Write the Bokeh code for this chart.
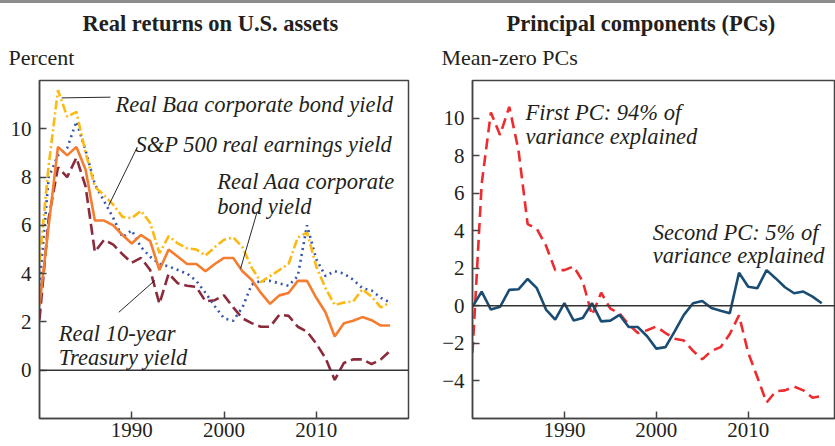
from bokeh.plotting import figure
from bokeh.models import Range1d, FixedTicker, Span, Label, ColumnDataSource, Title
from bokeh.layouts import row
from bokeh.embed import file_html
from bokeh.resources import INLINE

# ---------------- data ----------------
years = list(range(1980, 2019))

baa = [4.5, 8.5, 11.6, 10.5, 10.7, 9.0, 7.6, 7.25, 6.85, 6.35,
       6.3, 6.6, 6.1, 4.85, 5.55, 5.25, 5.05, 5.0, 4.75, 5.1,
       5.4, 5.5, 5.1, 4.25, 3.65, 3.9, 4.15, 4.4, 5.5, 5.7,
       4.3, 3.4, 2.7, 2.8, 2.85, 3.35, 3.05, 2.6, 2.8]
aaa = [2.7, 6.0, 9.25, 8.9, 9.25, 8.3, 6.2, 6.2, 6.0, 5.6,
       5.25, 5.6, 5.35, 4.15, 5.0, 4.7, 4.4, 4.4, 4.1, 4.4,
       4.65, 4.65, 4.1, 3.75, 3.2, 2.75, 3.1, 3.2, 3.7, 3.7,
       3.0, 2.4, 1.4, 1.95, 2.05, 2.2, 2.07, 1.85, 1.85]
sp500 = [3.5, 8.0, 8.9, 9.2, 10.3, 9.1, 7.7, 7.0, 6.3, 5.5,
         5.8, 5.1, 4.7, 4.4, 4.3, 4.15, 4.0, 3.7, 3.2, 2.65,
         2.15, 2.05, 2.6, 3.55, 3.7, 3.7, 3.6, 3.5, 3.9, 6.0,
         4.6, 3.9, 4.1, 4.0, 3.75, 3.4, 3.3, 3.0, 2.8]
treasury = [2.1, 6.3, 8.4, 8.0, 8.8, 7.6, 4.9, 5.4, 5.2, 4.8,
            4.45, 4.65, 4.15, 2.75, 4.0, 3.6, 3.5, 3.45, 2.85, 2.9,
            3.1, 2.6, 2.15, 1.95, 1.8, 1.8, 2.3, 2.25, 1.8, 1.6,
            1.1, 0.5, -0.4, 0.3, 0.45, 0.45, 0.25, 0.45, 0.8]

pc1 = [-2.5, 6.5, 10.3, 9.1, 10.6, 8.3, 4.35, 4.1, 3.2, 1.9,
       1.9, 2.1, 1.3, -0.5, 0.7, -0.15, -0.4, -1.0, -1.45, -1.3,
       -1.1, -1.45, -1.75, -1.85, -2.4, -2.85, -2.4, -2.2, -1.5, -0.5,
       -2.5, -3.8, -5.15, -4.55, -4.5, -4.3, -4.5, -4.9, -4.8]
pc2 = [-0.05, 0.76, -0.2, -0.05, 0.85, 0.88, 1.43, 0.94, -0.2, -0.74,
       0.14, -0.78, -0.65, 0.14, -0.83, -0.79, -0.48, -1.13, -1.13, -1.62,
       -2.28, -2.2, -1.36, -0.48, 0.14, 0.26, -0.12, -0.26, -0.39, 1.76,
       1.02, 0.94, 1.9, 1.46, 0.99, 0.67, 0.76, 0.49, 0.14]

left_yticks = [0, 2, 4, 6, 8, 10]
right_yticks = [-4, -2, 0, 2, 4, 6, 8, 10]
xticks = [1990, 2000, 2010]

SERIF = "Liberation Serif"
INK = "#231f20"
FRAME = "#444444"

src = ColumnDataSource(dict(year=years, baa=baa, aaa=aaa, sp500=sp500,
                            treasury=treasury, pc1=pc1, pc2=pc2))


def style_axes(p, yticks):
    p.xgrid.visible = False
    p.ygrid.visible = False
    for ax in (p.xaxis[0], p.yaxis[0]):
        ax.major_tick_in = 7
        ax.major_tick_out = 0
        ax.minor_tick_line_color = None
        ax.axis_line_color = FRAME
        ax.axis_line_width = 1.5
        ax.major_tick_line_color = FRAME
        ax.major_tick_line_width = 1.5
        ax.major_label_text_font = SERIF
        ax.major_label_text_font_size = "21px"
        ax.major_label_text_color = INK
    p.xaxis[0].ticker = FixedTicker(ticks=xticks)
    p.yaxis[0].ticker = FixedTicker(ticks=yticks)
    p.xaxis[0].major_label_standoff = 4
    p.yaxis[0].major_label_standoff = 8
    p.yaxis[0].major_label_overrides = {t: ("\u2212" + str(-t)) for t in yticks if t < 0}
    p.add_layout(Span(location=0, dimension="width", line_color="#333333", line_width=1.5))
    p.outline_line_color = FRAME
    p.outline_line_width = 1.5


def add_label(p, x, y, text):
    p.add_layout(Label(x=x, y=y, text=text, text_font=SERIF, text_font_size="22.5px",
                       text_font_style="italic", text_color=INK, text_align="left",
                       text_baseline="alphabetic"))


def add_titles(p, main, main_offset, sub):
    # nearest the frame first
    p.add_layout(Title(text=sub, align="left", offset=-31, standoff=18, vertical_align="top",
                       text_font=SERIF, text_font_size="22px", text_font_style="normal",
                       text_color=INK), "above")
    p.add_layout(Title(text=main, align="left", offset=main_offset, standoff=0,
                       vertical_align="bottom", text_font=SERIF, text_font_size="22.5px",
                       text_font_style="bold", text_color=INK), "above")


FIG_H = 446

# ---------------- left panel ----------------
p1 = figure(width=415, height=FIG_H, x_range=Range1d(1980, 2020), y_range=Range1d(-2, 12),
            output_backend="svg", toolbar_location=None, tools="",
            min_border_left=39, min_border_right=7, min_border_top=80, min_border_bottom=28,
            background_fill_color="white", border_fill_color=None)
style_axes(p1, left_yticks)
add_titles(p1, "Real returns on U.S. assets", 43, "Percent")

p1.line("year", "treasury", source=src, line_color="#8b2a3a", line_width=2.6, line_dash="11 5")
p1.line("year", "sp500", source=src, line_color="#3557ad", line_width=2.6, line_dash="2 4")
p1.line("year", "baa", source=src, line_color="#fbb912", line_width=2.6, line_dash="9 3 2 3")
p1.line("year", "aaa", source=src, line_color="#f47d30", line_width=2.6)

# leader lines (annotation positions)
lead1 = dict(x0=[1982.4, 1987.5, 2003.6, 1988.6], y0=[11.28, 6.82, 6.57, 2.40],
             x1=[1987.7, 1990.6, 2001.8, 1992.5], y1=[11.31, 9.24, 4.21, 3.72])
p1.segment(x0="x0", y0="y0", x1="x1", y1="y1", source=ColumnDataSource(lead1),
           line_color="#111111", line_width=0.9)

add_label(p1, 1988.24, 10.99, "Real Baa corporate bond yield")
add_label(p1, 1990.41, 9.35, "S&P 500 real earnings yield")
add_label(p1, 1999.26, 7.80, "Real Aaa corporate")
add_label(p1, 1999.26, 6.78, "bond yield")
add_label(p1, 1982.09, 1.52, "Real 10-year")
add_label(p1, 1982.09, 0.53, "Treasury yield")

# ---------------- right panel ----------------
p2 = figure(width=420, height=FIG_H, x_range=Range1d(1980, 2019.5), y_range=Range1d(-6, 12),
            output_backend="svg", toolbar_location=None, tools="",
            min_border_left=57, min_border_right=0, min_border_top=80, min_border_bottom=28,
            background_fill_color="white", border_fill_color=None)
style_axes(p2, right_yticks)
add_titles(p2, "Principal components (PCs)", 34, "Mean-zero PCs")

p2.line("year", "pc1", source=src, line_color="#ee2b2e", line_width=2.6, line_dash="11 6")
p2.line("year", "pc2", source=src, line_color="#1a4d73", line_width=2.6)

add_label(p2, 1985.77, 10.27, "First PC: 94% of")
add_label(p2, 1985.77, 9.04, "variance explained")
add_label(p2, 1999.62, 3.93, "Second PC: 5% of")
add_label(p2, 1999.62, 2.70, "variance explained")

layout = row(p1, p2, styles={"background": "linear-gradient(to bottom, #8c8c8c 0px, #8c8c8c 3px, #ffffff 3px, #ffffff 100%)"})
open("out.html", "w").write(file_html(layout, INLINE))
